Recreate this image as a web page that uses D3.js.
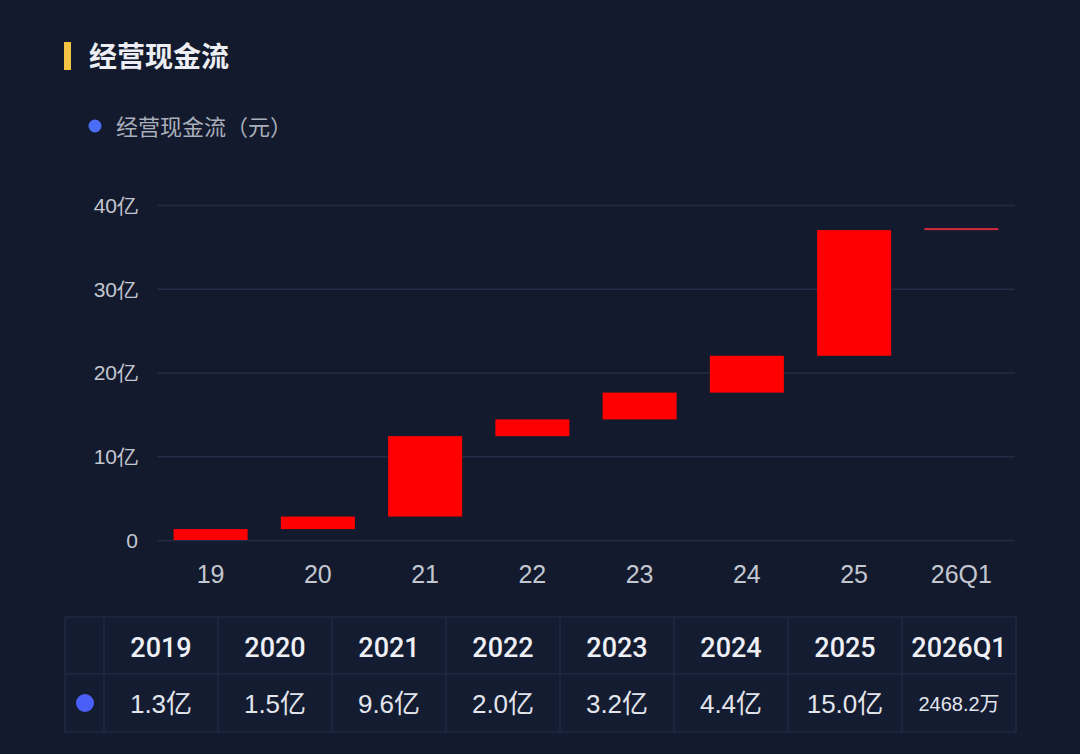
<!DOCTYPE html>
<html>
<head>
<meta charset="utf-8">
<script src="https://cdn.jsdelivr.net/npm/d3@7"></script>
<style>
  html, body { margin: 0; padding: 0; background: #131a2d; }
  svg { display: block; font-family: "Liberation Sans", "Noto Sans CJK SC", sans-serif; }
</style>
</head>
<body>
<div id="chart"></div>
<script>
// x axis labels and table headers
var categories = ['19', '20', '21', '22', '23', '24', '25', '26Q1'];
var periods = ['2019', '2020', '2021', '2022', '2023', '2024', '2025', '2026Q1'];
// operating cash flow per period, in 亿元
var values = [1.3, 1.5, 9.6, 2.0, 3.2, 4.4, 15.0, 0.24682];
var valueLabels = ['1.3亿', '1.5亿', '9.6亿', '2.0亿', '3.2亿', '4.4亿', '15.0亿', '2468.2万'];
var yTicks = [0, 10, 20, 30, 40];

var W = 1080, H = 754;
var svg = d3.select('#chart').append('svg').attr('width', W).attr('height', H);

svg.append('rect').attr('width', W).attr('height', H).attr('fill', '#131a2d');

// title
svg.append('rect').attr('x', 64).attr('y', 42).attr('width', 7).attr('height', 28).attr('fill', '#f3c442');
svg.append('text').attr('x', 89).attr('y', 67)
    .attr('fill', '#eceef3').style('font-size', '28px').style('font-weight', 'bold')
    .style('font-family', '"Noto Sans CJK SC", sans-serif')
    .text('经营现金流');

// legend
svg.append('circle').attr('cx', 95).attr('cy', 126).attr('r', 6.5).attr('fill', '#4a6df5');
svg.append('text').attr('x', 116).attr('y', 135)
    .attr('fill', '#a9aebb').style('font-size', '22px')
    .style('font-family', '"Noto Sans CJK SC", sans-serif')
    .text('经营现金流（元）');

// waterfall: each bar goes from running total to running total + value
var start = [], end = [], acc = 0;
values.forEach(function(v) {
    start.push(acc);
    acc += v;
    end.push(acc);
});

var x = d3.scaleBand().domain(categories).range([157, 1015]).paddingInner(0.31).paddingOuter(0.155);
var y = d3.scaleLinear().domain([0, 40]).range([540, 205]);

var yAxis = svg.append('g').attr('transform', 'translate(157,0)')
    .call(d3.axisLeft(y).tickValues(yTicks).tickSize(-858)
        .tickFormat(function(d) { return d === 0 ? '0' : d + '亿'; }));
yAxis.select('.domain').remove();
yAxis.selectAll('line').attr('stroke', '#232c47').attr('stroke-width', 1.5);
yAxis.selectAll('text').attr('x', -19).attr('dy', '0.35em')
    .attr('fill', '#c3c7d0').style('font-size', '21px');

var xAxis = svg.append('g').attr('transform', 'translate(0,540)')
    .call(d3.axisBottom(x).tickSize(0));
xAxis.select('.domain').remove();
xAxis.selectAll('text').attr('y', 25).attr('dy', '0.71em')
    .attr('fill', '#c3c7d0').style('font-size', '25px');

svg.append('g').selectAll('rect').data(categories).join('rect')
    .attr('x', function(d) { return x(d); })
    .attr('width', x.bandwidth())
    .attr('y', function(d, i) { return y(end[i]); })
    .attr('height', function(d, i) { return Math.max(2, y(start[i]) - y(end[i])); })
    .attr('fill', function(d, i) { return values[i] < 1 ? '#d02a3a' : '#ff0000'; });

// data table under the chart
var tx = d3.scaleBand().domain(periods).range([104, 1016]);
var tTop = 617, tMid = 674, tBot = 732, tLeft = 65;
var table = svg.append('g');

table.append('rect').attr('x', tLeft).attr('y', tTop).attr('width', 1016 - tLeft).attr('height', tBot - tTop)
    .attr('fill', '#141c32').attr('stroke', '#1f2843').attr('stroke-width', 1.5);
table.append('line').attr('x1', tLeft).attr('x2', 1016).attr('y1', tMid).attr('y2', tMid)
    .attr('stroke', '#1f2843').attr('stroke-width', 1.5);
table.selectAll('.col').data(periods).join('line').attr('class', 'col')
    .attr('x1', function(d) { return tx(d); }).attr('x2', function(d) { return tx(d); })
    .attr('y1', tTop).attr('y2', tBot)
    .attr('stroke', '#1f2843').attr('stroke-width', 1.5);

table.selectAll('.head').data(periods).join('text').attr('class', 'head')
    .attr('x', function(d) { return tx(d) + tx.bandwidth() / 2; })
    .attr('y', (tTop + tMid) / 2 + 2).attr('dy', '0.36em')
    .attr('text-anchor', 'middle').attr('fill', '#eef0f5')
    .style('font-family', 'Roboto, sans-serif')
    .style('font-size', '27px').style('font-weight', '500')
    .text(function(d) { return d; });

table.selectAll('.val').data(valueLabels).join('text').attr('class', 'val')
    .attr('x', function(d, i) { return tx(periods[i]) + tx.bandwidth() / 2; })
    .attr('y', (tMid + tBot) / 2 + 1).attr('dy', '0.36em')
    .attr('text-anchor', 'middle').attr('fill', '#e3e5ec')
    .style('font-size', function(d) { return d.length > 6 ? '20px' : '26px'; })
    .text(function(d) { return d; });

table.append('circle').attr('cx', 85).attr('cy', (tMid + tBot) / 2).attr('r', 9).attr('fill', '#4a5ff7');
</script>
</body>
</html>
